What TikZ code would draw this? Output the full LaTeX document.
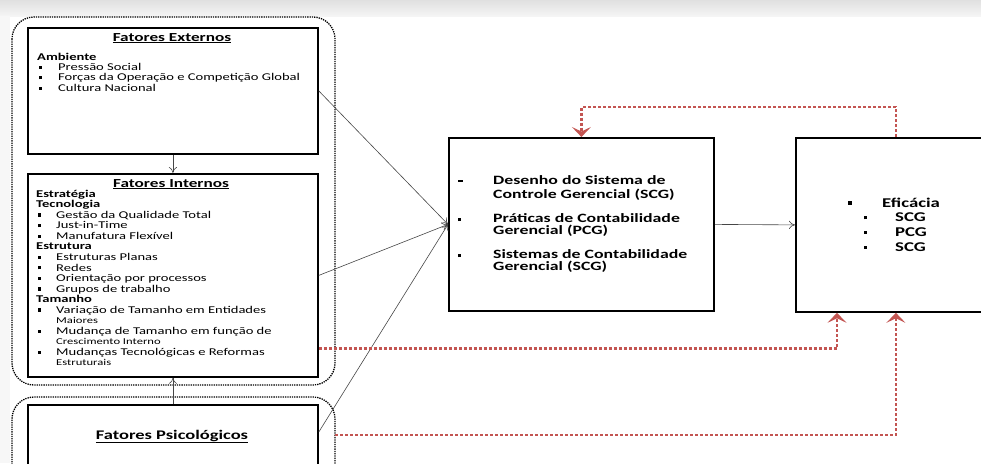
\documentclass[tikz,border=0pt]{standalone}
\usepackage{fontspec}
\setmainfont{Carlito}[FakeStretch=1.4]
\usetikzlibrary{arrows.meta}
\definecolor{fbred}{RGB}{195,85,82}
\definecolor{lnk}{RGB}{70,70,70}
\newcommand\sqb{\raisebox{1.6pt}{\rule{3.2pt}{3.2pt}}}
\newcommand\dotb{\raisebox{2.6pt}{\rule{3pt}{3pt}}}
\begin{document}
\begin{tikzpicture}[x=1pt,y=-1pt,
  box/.style={draw=black, line width=1.8pt, anchor=north west, inner sep=0pt},
  group/.style={draw=black, line width=1.3pt, densely dotted, rounded corners=22pt},
  link/.style={draw=lnk, line width=0.6pt, -{To[length=6pt,width=8pt]}},
  fb/.style={draw=fbred, line width=2.6pt, dash pattern=on 3pt off 2pt, -{Stealth[length=10pt,width=19pt,inset=4.5pt]}},
  txt/.style={anchor=north west, inner sep=0pt, align=left},
  head/.style={anchor=base, inner sep=0pt, font={\fontsize{12.3}{14}\selectfont\bfseries}}
]
\useasboundingbox (0,0) rectangle (981,463);
\shade[top color=black!12, bottom color=black!4] (0,0) rectangle (981,16);
\fill[black!3] (0,16) rectangle (10,463);

% dotted groups
\draw[group] (12,17) rectangle (335,385);
\draw[group] (12,490) -- (12,397) -- (335,397) -- (335,490);

% boxes
\node[box, minimum width=290pt, minimum height=126pt] (ext) at (27,27) {};
\node[box, minimum width=290pt, minimum height=203pt] (int) at (27,173) {};
\node[box, minimum width=290pt, minimum height=90pt] (psi) at (27,404) {};
\node[box, minimum width=265pt, minimum height=173pt] (mid) at (448,137) {};
\node[box, minimum width=200pt, minimum height=174pt] (eff) at (795,137) {};

% headings
\node[head] (hext) at (172,41) {\underline{Fatores Externos}};
\node[head] (hint) at (171,187) {\underline{Fatores Internos}};
\node[head, font={\fontsize{13.2}{15}\selectfont\bfseries}] (hpsi) at (172,439) {\underline{Fatores Psicológicos}};

% Externos text
\node[txt, font={\fontsize{10.4}{10.4}\selectfont}] (text) at (37,52.7) {\strut\textbf{Ambiente}\\
\hspace*{2pt}\makebox[19pt][l]{\sqb}Pressão Social\\
\hspace*{2pt}\makebox[19pt][l]{\sqb}Forças da Operação e Competição Global\\
\hspace*{2pt}\makebox[19pt][l]{\sqb}Cultura Nacional};

% Internos text
\node[txt, font={\fontsize{10.4}{10.55}\selectfont}] (tint) at (36,189.6) {\strut\textbf{Estratégia}\\
\textbf{Tecnologia}\\
\hspace*{2pt}\makebox[18pt][l]{\sqb}Gestão da Qualidade Total\\
\hspace*{2pt}\makebox[18pt][l]{\sqb}Just-in-Time\\
\hspace*{2pt}\makebox[18pt][l]{\sqb}Manufatura Flexível\\
\textbf{Estrutura}\\
\hspace*{2pt}\makebox[18pt][l]{\sqb}Estruturas Planas\\
\hspace*{2pt}\makebox[18pt][l]{\sqb}Redes\\
\hspace*{2pt}\makebox[18pt][l]{\sqb}Orientação por processos\\
\hspace*{2pt}\makebox[18pt][l]{\sqb}Grupos de trabalho\\
\textbf{Tamanho}\\
\hspace*{2pt}\makebox[18pt][l]{\sqb}Variação de Tamanho em Entidades\\
\hspace*{20pt}{\fontsize{9}{10.55}\selectfont Maiores}\\
\hspace*{2pt}\makebox[18pt][l]{\sqb}Mudança de Tamanho em função de\\
\hspace*{20pt}{\fontsize{9}{10.55}\selectfont Crescimento Interno}\\
\hspace*{2pt}\makebox[18pt][l]{\sqb}Mudanças Tecnológicas e Reformas\\
\hspace*{20pt}{\fontsize{9}{10.55}\selectfont Estruturais}};

% middle text
\node[txt, font={\fontsize{12.7}{12}\selectfont\bfseries}] (tmid) at (458,175.6) {\strut\makebox[35pt][l]{\rule[3pt]{4.5pt}{2.2pt}}Desenho do Sistema de\\
\hspace*{35pt}Controle Gerencial (SCG)\\[12pt]
\makebox[35pt][l]{\sqb}Práticas de Contabilidade\\
\hspace*{35pt}Gerencial (PCG)\\[12pt]
\makebox[35pt][l]{\sqb}Sistemas de Contabilidade\\
\hspace*{35pt}Gerencial (SCG)};

% right text
\node[txt, font={\fontsize{13.4}{14.7}\selectfont\bfseries}] (teff) at (848,196.7) {\strut\makebox[34pt][l]{\raisebox{2.5pt}{\rule{4pt}{4pt}}}Eficácia\\
\hspace*{16pt}\makebox[31pt][l]{\dotb}SCG\\
\hspace*{16pt}\makebox[31pt][l]{\dotb}PCG\\
\hspace*{16pt}\makebox[31pt][l]{\dotb}SCG};

% links
\draw[link] (ext.south) -- (int.north);
\draw[link] (psi.north) -- (int.south);
\draw[link] (ext.east) -- (mid.west);
\draw[link] (int.east) -- (mid.west);
\draw[link] ([yshift=-28pt]psi.north east) -- (mid.west);
\draw[link] (mid.east) -- (eff.west);

% feedback
\coordinate (psiout) at (335,435);
\draw[fb] (eff.north) -- ++(0,-30) -| (mid.north);
\draw[fb] ([yshift=-73pt]int.east) -| ([xshift=42pt]eff.south west);
\draw[fb] (psiout) -| (eff.south);
\end{tikzpicture}
\end{document}
